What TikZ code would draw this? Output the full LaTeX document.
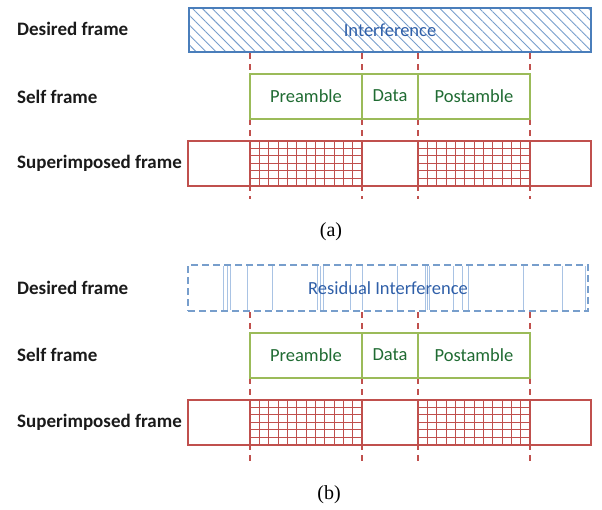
\documentclass[tikz,border=0pt]{standalone}
\usepackage{fontspec}
\setmainfont{Carlito}
\newfontfamily\capfont{Liberation Serif}
\usetikzlibrary{positioning,calc,patterns.meta}

\definecolor{frameblue}{HTML}{4A7EBB}
\definecolor{txtblue}{HTML}{2F5FA8}
\definecolor{lineblue}{HTML}{A9C3E4}
\definecolor{framegreen}{HTML}{9BBB59}
\definecolor{txtgreen}{HTML}{1F6B32}
\definecolor{framered}{HTML}{C0504D}
\definecolor{labelgray}{HTML}{1A1A1A}

\begin{document}
\begin{tikzpicture}[x=1pt,y=-1pt,font=\fontsize{18.5}{20}\selectfont,
                    rowlabel/.style={anchor=west,inner sep=0pt,text=labelgray,font=\fontsize{19}{21}\selectfont\bfseries},
                    framebox/.style={draw,line width=2pt,outer sep=0pt,minimum height=45pt,inner sep=0pt},
                    selfbox/.style={framebox,draw=framegreen,text=txtgreen},
                    superbox/.style={framebox,draw=framered},
                    cut/.style={draw=framered,line width=1.5pt,dash pattern=on 6pt off 5pt},
                    gridline/.style={draw=framered,line width=0.9pt},
                    caption/.style={font=\capfont\fontsize{20}{22}\selectfont}]
                \useasboundingbox (0,0) rectangle (602,509);

                % cut lines
                \coordinate (ca1) at (250,53);  \coordinate (ea1) at (250,199);
                \coordinate (ca2) at (362,53);  \coordinate (ea2) at (362,199);
                \coordinate (ca3) at (418,53);  \coordinate (ea3) at (418,199);
                \coordinate (ca4) at (530,53);  \coordinate (ea4) at (530,199);
                \coordinate (cb1) at (250,312); \coordinate (eb1) at (250,462);
                \coordinate (cb2) at (362,312); \coordinate (eb2) at (362,462);
                \coordinate (cb3) at (418,312); \coordinate (eb3) at (418,462);
                \coordinate (cb4) at (530,312); \coordinate (eb4) at (530,462);
                \foreach \k in {1,...,4} {
                    \draw [cut] (ca\k) -- (ea\k);
                    \draw [cut] (cb\k) -- (eb\k);
                }

                % (a)
                \node [rowlabel] (la1) at (17,29)  {Desired frame};
                \node [rowlabel] (la2) at (17,97)  {Self frame};
                \node [rowlabel] (la3) at (17,163) {Superimposed frame};

                \node [framebox,draw=frameblue,text=txtblue,minimum width=402pt,minimum height=44pt,
                       pattern={Lines[angle=-45,distance=7pt,line width=0.9pt]},pattern color=frameblue!75]
                      (da) at (390,30) {Interference};

                \node [selfbox,minimum width=112pt] (pa) at (306,96) {Preamble};
                \node [selfbox,minimum width=56pt,right=0pt of pa] (dta) {Data};
                \node [selfbox,minimum width=112pt,right=0pt of dta] (qa) {Postamble};

                \node [superbox,minimum width=62pt]  (sa1) at (219,163) {};
                \node [superbox,minimum width=112pt,right=0pt of sa1] (sa2) {};
                \node [superbox,minimum width=56pt,right=0pt of sa2]  (sa3) {};
                \node [superbox,minimum width=112pt,right=0pt of sa3] (sa4) {};
                \node [superbox,minimum width=61pt,right=0pt of sa4]  (sa5) {};

                \node [caption] (capa) at (331,232) {(a)};

                % (b)
                \node [rowlabel] (lb1) at (17,288) {Desired frame};
                \node [rowlabel] (lb2) at (17,355) {Self frame};
                \node [rowlabel] (lb3) at (17,422) {Superimposed frame};

                \foreach \x in {223,227,230,247,272,317,320,323,350,362,397,425,427,429,453,462,468,523,562,585}
                    \draw [lineblue,line width=0.9pt] (\x,266) -- (\x,310);
                \node [framebox,draw=frameblue!75,dash pattern=on 7pt off 4pt,text=txtblue,
                       minimum width=400pt,minimum height=46pt]
                      (db) at (388,288) {Residual Interference};

                \node [selfbox,minimum width=112pt] (pb) at (306,355) {Preamble};
                \node [selfbox,minimum width=56pt,right=0pt of pb] (dtb) {Data};
                \node [selfbox,minimum width=112pt,right=0pt of dtb] (qb) {Postamble};

                \node [superbox,minimum width=62pt]  (sb1) at (219,422) {};
                \node [superbox,minimum width=112pt,right=0pt of sb1] (sb2) {};
                \node [superbox,minimum width=56pt,right=0pt of sb2]  (sb3) {};
                \node [superbox,minimum width=112pt,right=0pt of sb3] (sb4) {};
                \node [superbox,minimum width=61pt,right=0pt of sb4]  (sb5) {};

                \node [caption] (capb) at (329,495) {(b)};

                % grids in the overlapping parts
                \foreach \n in {sa2,sa4,sb2,sb4} {
                    \foreach \i in {1,...,11}
                        \draw [gridline] ($(\n.north west)!\i/12!(\n.north east)$) -- ($(\n.south west)!\i/12!(\n.south east)$);
                    \foreach \j in {1,...,5}
                        \draw [gridline] ($(\n.north west)!\j/6!(\n.south west)$) -- ($(\n.north east)!\j/6!(\n.south east)$);
                }
            \end{tikzpicture}
\end{document}
